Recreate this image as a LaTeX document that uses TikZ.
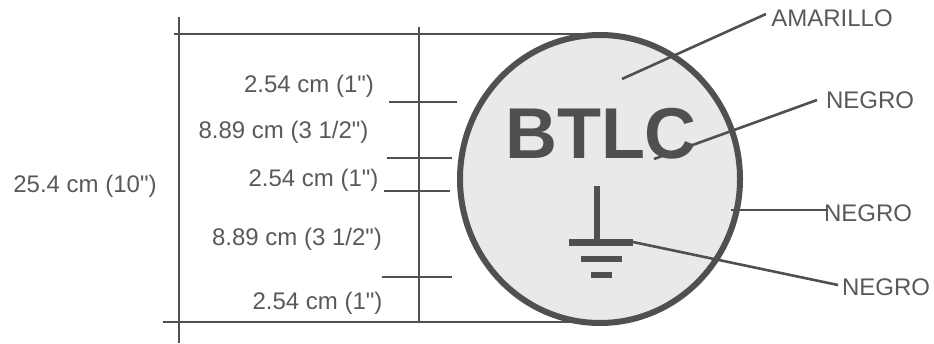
\documentclass[tikz,border=0pt]{standalone}
\usepackage{fontspec}
\setmainfont{Liberation Sans}
\newfontfamily\plainsans{Liberation Sans}
\usetikzlibrary{shapes.geometric}
\definecolor{ink}{HTML}{505050}
\definecolor{txt}{HTML}{595959}
\definecolor{disc}{HTML}{E9E9E9}
\tikzset{
  x=1pt,y=-1pt,
  rule/.style={draw=ink,line width=2.6pt},
  lead/.style={draw=ink,line width=2.6pt},
  lab/.style={text=txt,font=\plainsans\fontsize{24}{26}\selectfont,inner sep=0pt,anchor=center},
  bar/.style={fill=ink,draw=none},
}
\begin{document}
\begin{tikzpicture}
\useasboundingbox (0,0) rectangle (934,343);
% frame
\coordinate (tl) at (174,34); \coordinate (tr) at (614,34);
\coordinate (bl) at (163,322); \coordinate (br) at (580,322);
\coordinate (v1t) at (179,17); \coordinate (v1b) at (179,343);
\coordinate (v2t) at (419,27); \coordinate (v2b) at (419,322);
\draw[rule] (tl) -- (tr);
\draw[rule] (bl) -- (br);
\draw[rule] (v1t) -- (v1b);
\draw[rule] (v2t) -- (v2b);
\foreach \n/\a/\b/\y in {a/389/457/102,b/387/452/158,c/384/450/191,d/382/452/277}{
  \coordinate (\n1) at (\a,\y); \coordinate (\n2) at (\b,\y);
  \draw[rule] (\n1) -- (\n2);
}
% disc
\node[ellipse,draw=ink,fill=disc,line width=6pt,minimum width=280pt,minimum height=288pt,inner sep=0pt,outer sep=0pt] (disc) at (600,179) {};
\node[text=ink,font=\fontsize{72}{72}\bfseries\selectfont,inner sep=0pt] (btlc) at (601,134) {BTLC};
% ground
\coordinate (g1) at (597,186); \coordinate (g2) at (597,240);
\draw[draw=ink,line width=6pt] (g1) -- (g2);
\fill[bar] (569,239) rectangle (633,246);
\fill[bar] (581,256) rectangle (622,262);
\fill[bar] (591,272) rectangle (612,278);
\coordinate (g3) at (633,242);
% labels
\node[lab] (l0) at (85,186) {25.4 cm (10")};
\node[lab] (l1) at (309,86) {2.54 cm (1")};
\node[lab] (l2) at (283.5,132) {8.89 cm (3 1/2")};
\node[lab] (l3) at (313.5,180) {2.54 cm (1")};
\node[lab] (l4) at (297,239) {8.89 cm (3 1/2")};
\node[lab] (l5) at (317.5,303) {2.54 cm (1")};
\node[lab] (n0) at (832,18) {AMARILLO};
\node[lab] (n1) at (870,100) {NEGRO};
\node[lab] (n2) at (868,213) {NEGRO};
\node[lab] (n3) at (886,287) {NEGRO};
% leaders
\coordinate (e0) at (622,79); \coordinate (f0) at (766,14);
\coordinate (e1) at (654,159); \coordinate (f1) at (817,100);
\coordinate (e2) at (731,210); \coordinate (f2) at (828,210);
\coordinate (f3) at (838,285);
\draw[lead] (e0) -- (f0);
\draw[lead] (e1) -- (f1);
\draw[lead] (e2) -- (f2);
\draw[lead] (g3) -- (f3);
\end{tikzpicture}
\end{document}
